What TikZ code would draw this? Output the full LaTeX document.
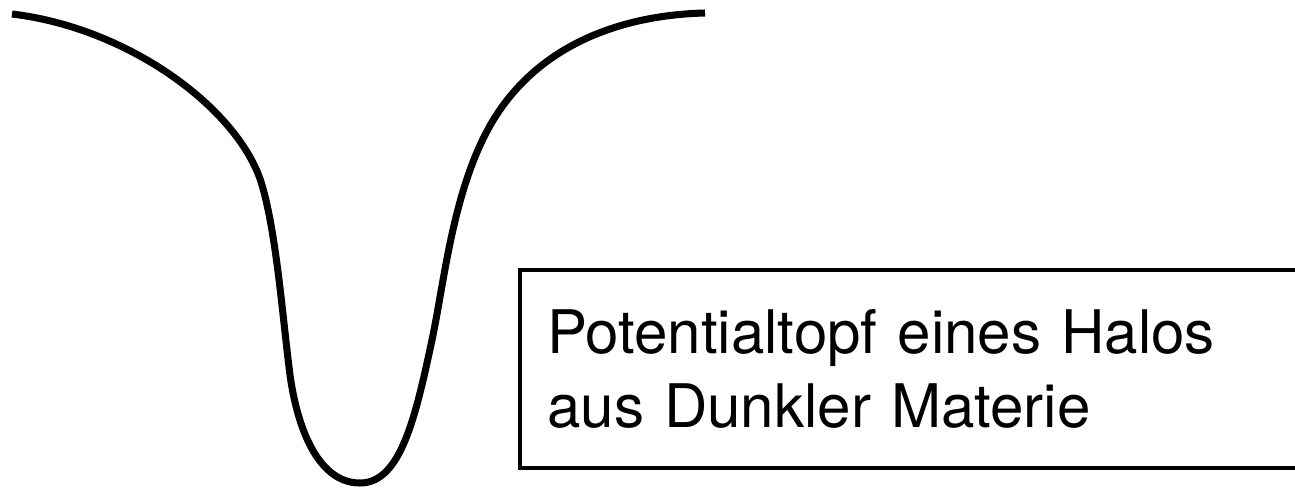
\documentclass[tikz,border=0pt]{standalone}
\usepackage{fontspec}
\setmainfont{TeX Gyre Heros}
\begin{document}
\begin{tikzpicture}[
    x=0.02cm, y=-0.02cm,
    well/.style={line width=4pt},
    labelbox/.style={draw,line width=2.5pt,anchor=north west,inner xsep=0.54cm,
        minimum height=3.96cm,text width=14.92cm,align=left,
        font=\fontsize{34.2}{42}\selectfont}
]
\useasboundingbox (0,0) rectangle (1295,490);
% potential well
\draw[well] (12,14) .. controls (130,28) and (240,110) .. (262,185)
    .. controls (276,233) and (282,310) .. (289,367)
    .. controls (295,420) and (315,483) .. (360,483)
    .. controls (400,483) and (415,420) .. (432,340)
    .. controls (444,283) and (452,200) .. (485,135)
    .. controls (530,46) and (620,15) .. (705,13);
\node[labelbox] (halo) at (518,268) {Potentialtopf eines Halos\\aus Dunkler Materie};
\end{tikzpicture}
\end{document}
